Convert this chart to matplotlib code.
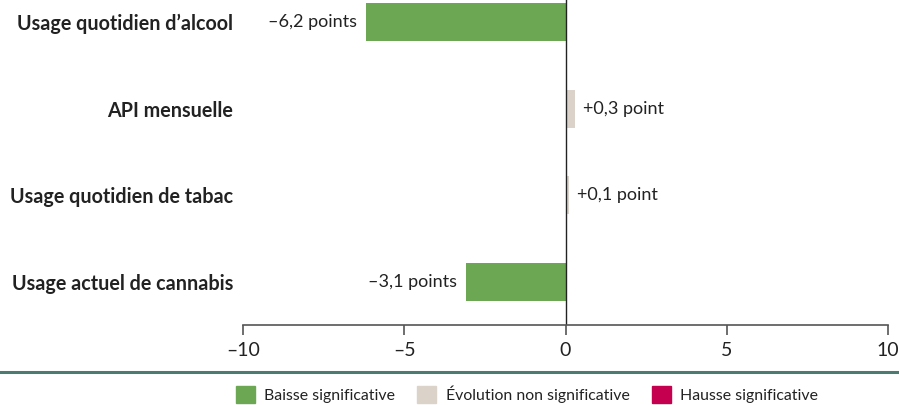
import matplotlib.pyplot as plt
from matplotlib.patches import Patch
from matplotlib.lines import Line2D

# Données
categories = ["Usage quotidien d\u2019alcool", "API mensuelle",
              "Usage quotidien de tabac", "Usage actuel de cannabis"]
evolutions = [-6.2, 0.3, 0.1, -3.1]
etiquettes = ["\u20136,2 points", "+0,3 point", "+0,1 point", "\u20133,1 points"]
statuts = ["baisse", "ns", "ns", "baisse"]
ticks = [-10, -5, 0, 5, 10]
tick_labels = ["\u201310", "\u20135", "0", "5", "10"]

couleurs = {"baisse": "#6ca854", "ns": "#dbd3c9", "hausse": "#c4004f"}
legende = [("baisse", "Baisse significative"),
           ("ns", "\u00c9volution non significative"),
           ("hausse", "Hausse significative")]

plt.rcParams['font.family'] = ['Lato', 'DejaVu Sans']

fig = plt.figure(figsize=(8.99, 4.05), dpi=100)
ax = fig.add_axes([243 / 899, 1 - 325 / 405, 645 / 899, 325 / 405])

y = list(range(len(categories)))
ax.barh(y, evolutions, height=0.44, color=[couleurs[s] for s in statuts])

for yi, v, lab in zip(y, evolutions, etiquettes):
    if v < 0:
        ax.text(v - 0.25, yi, lab, ha="right", va="center", fontsize=13, color="#222222")
    else:
        ax.text(v + 0.25, yi, lab, ha="left", va="center", fontsize=13, color="#222222")

ax.axvline(0, color="#222222", lw=1)
ax.set_xlim(-10, 10)
ax.set_ylim(3.5, -0.255)
ax.set_xticks(ticks)
ax.set_xticklabels(tick_labels, fontsize=14, color="#222222")
ax.set_yticks(y)
ax.set_yticklabels(categories, fontsize=14.2, fontweight="bold", color="#222222")
ax.tick_params(axis="y", length=0, pad=7)
ax.tick_params(axis="x", length=7, width=1.2, color="#555555", pad=5)
for s in ["top", "right", "left"]:
    ax.spines[s].set_visible(False)
ax.spines["bottom"].set_color("#555555")
ax.spines["bottom"].set_linewidth(1.2)

# Ligne de séparation
fig.add_artist(Line2D([0, 1], [1 - 372 / 405] * 2, color="#4d7b70", lw=2.2,
                      transform=fig.transFigure))

handles = [Patch(color=couleurs[k], label=t) for k, t in legende]
fig.legend(handles=handles, loc="center", bbox_to_anchor=(527 / 899, 1 - 394 / 405),
           ncol=3, frameon=False, fontsize=11.4, handlelength=1.2, handleheight=1.2,
           handletextpad=0.6, columnspacing=1.4, labelcolor="#222222",
           borderpad=0, borderaxespad=0)

fig.savefig("out.png", dpi=100)
